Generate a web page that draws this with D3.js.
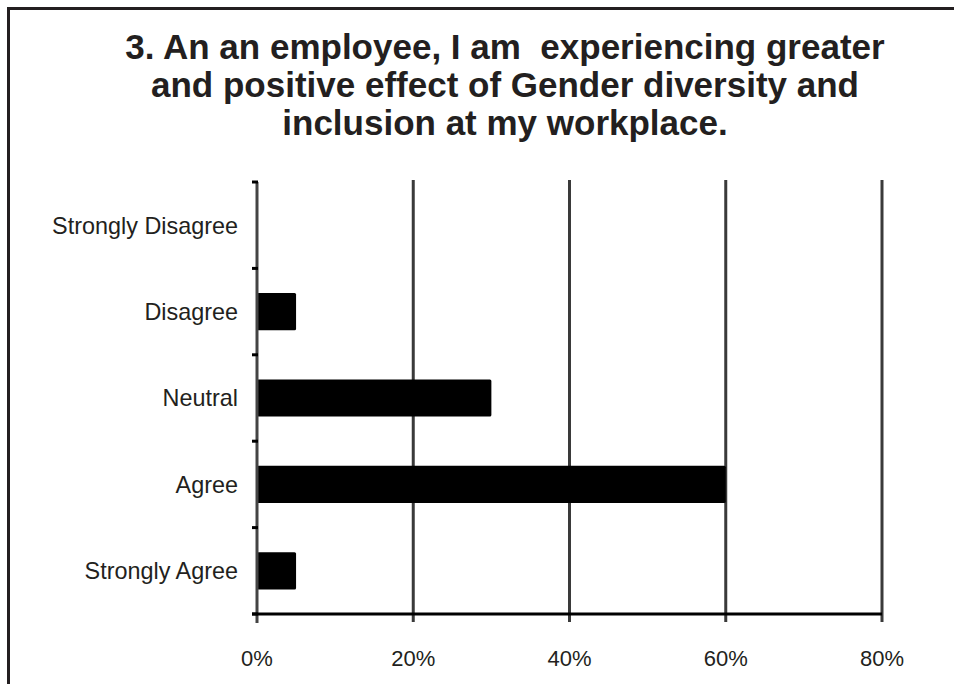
<!DOCTYPE html>
<html>
<head>
<meta charset="utf-8">
<script src="https://cdn.jsdelivr.net/npm/d3@7/dist/d3.min.js"></script>
<style>
  html, body { margin: 0; padding: 0; background: #fff; }
  svg { display: block; }
</style>
</head>
<body>
<svg id="chart" width="954" height="684"></svg>
<script>
// Survey responses, top to bottom
const categories = ["Strongly Disagree", "Disagree", "Neutral", "Agree", "Strongly Agree"];
const percentages = [0, 5, 30, 60, 5];
const xTicks = [0, 20, 40, 60, 80];
const titleLines = [
  "3. An an employee, I am\u00a0 experiencing greater",
  "and positive effect of Gender diversity and",
  "inclusion at my workplace."
];

const svg = d3.select("#chart");
const ink = "#231f20";
const margin = { top: 182, right: 72, bottom: 70, left: 257 };
const width = 954, height = 684;

const x = d3.scaleLinear().domain([0, 80]).range([margin.left, width - margin.right]);
const y = d3.scaleBand().domain(categories).range([margin.top, height - margin.bottom]).paddingInner(0.57).paddingOuter(0.285);

// Frame (top and left edges)
svg.append("path")
  .attr("d", `M8.5,${height} V8.5 H${width}`)
  .attr("fill", "none").attr("stroke", ink).attr("stroke-width", 3);

// Title
svg.append("text")
  .attr("text-anchor", "middle")
  .attr("font-family", "Liberation Sans, Arial, sans-serif")
  .attr("font-weight", "bold").attr("font-size", 35).attr("fill", ink)
  .selectAll("tspan").data(titleLines).join("tspan")
  .attr("x", 505).attr("y", (d, i) => 59 + i * 38).text(d => d);

const plotBottom = height - margin.bottom;

// Vertical gridlines
svg.append("g")
  .selectAll("line").data(xTicks.slice(1)).join("line")
  .attr("x1", d => x(d)).attr("x2", d => x(d))
  .attr("y1", margin.top - 2).attr("y2", plotBottom + 8)
  .attr("stroke", "#3a3a3a").attr("stroke-width", 3);

// Bars
svg.append("g")
  .selectAll("rect").data(categories).join("rect")
  .attr("x", x(0))
  .attr("y", d => y(d))
  .attr("width", (d, i) => x(percentages[i]) - x(0))
  .attr("height", y.bandwidth())
  .attr("rx", 1.5)
  .attr("fill", "#000");

// Category axis line and boundary ticks
const yLine = svg.append("g");
yLine.append("line")
  .attr("x1", x(0)).attr("x2", x(0))
  .attr("y1", margin.top).attr("y2", plotBottom + 9)
  .attr("stroke", "#444").attr("stroke-width", 3);
const step = y.step();
const bounds = d3.range(categories.length + 1).map(i => margin.top + i * step);
yLine.selectAll("line.tick").data(bounds).join("line")
  .attr("class", "tick")
  .attr("x1", x(0) - 5).attr("x2", x(0) + 1)
  .attr("y1", d => d).attr("y2", d => d)
  .attr("stroke", "#000").attr("stroke-width", 3);

// Value axis line
svg.append("line")
  .attr("x1", x(0) - 5).attr("x2", x(80))
  .attr("y1", plotBottom).attr("y2", plotBottom)
  .attr("stroke", "#000").attr("stroke-width", 3);

// Category labels
svg.append("g")
  .selectAll("text").data(categories).join("text")
  .attr("x", 238)
  .attr("y", d => y(d) + y.bandwidth() / 2)
  .attr("dy", "0.36em")
  .attr("text-anchor", "end")
  .attr("font-family", "Liberation Sans, Arial, sans-serif")
  .attr("font-size", 23.4).attr("fill", ink)
  .text(d => d);

// Value tick labels
svg.append("g")
  .selectAll("text").data(xTicks).join("text")
  .attr("x", d => x(d))
  .attr("y", 666)
  .attr("text-anchor", "middle")
  .attr("font-family", "Liberation Sans, Arial, sans-serif")
  .attr("font-size", 22).attr("fill", ink)
  .text(d => d + "%");
</script>
</body>
</html>
